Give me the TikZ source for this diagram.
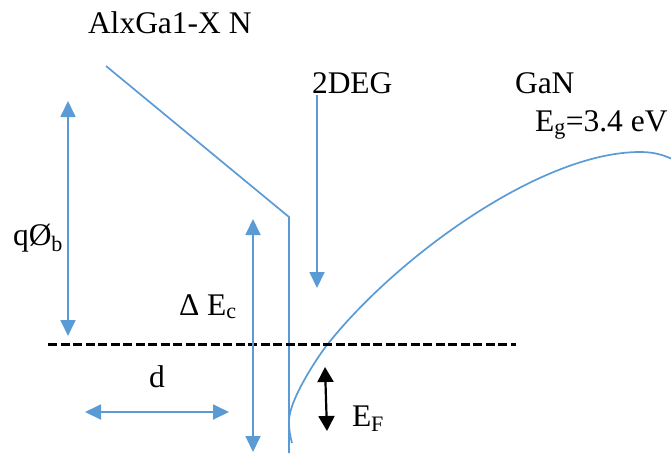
\documentclass[tikz,border=0pt]{standalone}
\usepackage{fontspec}
\setmainfont{Liberation Serif}
\usetikzlibrary{arrows.meta}
\definecolor{bandblue}{HTML}{5B9BD5}
\tikzset{
  lbl/.style={inner sep=0pt, outer sep=0pt, anchor=base west, font=\fontsize{31.5}{36}\selectfont},
  band/.style={draw=bandblue, line width=1.7pt},
  bluearrow/.style={draw=bandblue, line width=1.8pt, {Triangle[width=15pt,length=16pt]}-{Triangle[width=15pt,length=16pt]}},
  bluearrowone/.style={draw=bandblue, line width=1.8pt, -{Triangle[width=15pt,length=16pt]}},
  blackarrow/.style={draw=black, line width=2.2pt, {Triangle[width=16pt,length=15pt]}-{Triangle[width=16pt,length=15pt]}},
  fermi/.style={draw=black, line width=3pt, dash pattern=on 9pt off 3.5pt}
}
\begin{document}
\begin{tikzpicture}[x=1pt,y=-1pt]
\useasboundingbox (0,0) rectangle (671,453);
% labels
\node[lbl] (alg) at (88,33) {AlxGa1-X N};
\node[lbl] (qphi) at (13,245) {qØ\textsubscript{b}};
\node[lbl] (deg) at (312,93) {2DEG};
\node[lbl] (gan) at (515,93) {GaN};
\node[lbl] (eg) at (535,131) {E\textsubscript{g}=3.4 eV};
\node[lbl] (dec) at (179,315) {Δ E\textsubscript{c}};
\node[lbl] (dl) at (149,387) {d};
\node[lbl] (ef) at (352,426) {E\textsubscript{F}};
% band edge of AlGaN
\coordinate (a1) at (106,66);
\coordinate (a2) at (289,217);
\coordinate (a3) at (289,453);
\draw[band] (a1) -- (a2) -- (a3);
% GaN conduction band
\coordinate (c0) at (292,443);
\coordinate (c1) at (289,421);
\coordinate (c2) at (327,345);
\coordinate (c3) at (640,152);
\coordinate (c4) at (671,158.5);
\draw[band] (c0) .. controls (290.3,437) and (289,430) .. (c1)
  .. controls (289,400) and (317.7,356.8) .. (c2)
  .. controls (395,258.7) and (540,152) .. (c3)
  .. controls (653,152) and (662,154.5) .. (c4);
% Fermi level
\coordinate (f1) at (48,344);
\coordinate (f2) at (516,344);
\draw[fermi] (f1) -- (f2);
% arrows
\coordinate (q1) at (68,101);
\coordinate (q2) at (68,336);
\draw[bluearrow] (q1) -- (q2);
\coordinate (e1) at (253,219);
\coordinate (e2) at (253,452);
\draw[bluearrow] (e1) -- (e2);
\coordinate (g1) at (317,95);
\coordinate (g2) at (317,288);
\draw[bluearrowone] (g1) -- (g2);
\coordinate (d1) at (85,412);
\coordinate (d2) at (229,412);
\draw[bluearrow] (d1) -- (d2);
\coordinate (k1) at (325,367);
\coordinate (k2) at (327,431);
\draw[blackarrow] (k1) -- (k2);
\end{tikzpicture}
\end{document}
